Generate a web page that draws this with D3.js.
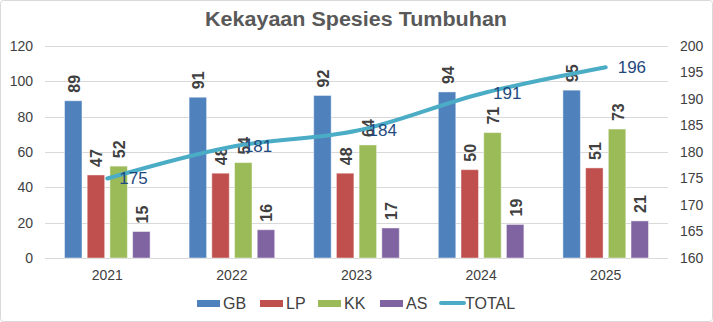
<!DOCTYPE html>
<html><head><meta charset="utf-8">
<script src="https://cdn.jsdelivr.net/npm/d3@7"></script>
<style>body{margin:0;background:#fff}svg{display:block;font-family:"Liberation Sans",Arial,sans-serif}</style>
</head><body><svg id="c" width="713" height="322"></svg>
<script>
const years = ["2021","2022","2023","2024","2025"];
const seriesNames = ["GB","LP","KK","AS"];
const GB = [89,91,92,94,95];
const LP = [47,48,48,50,51];
const KK = [52,54,64,71,73];
const AS = [15,16,17,19,21];
const TOTAL = [175,181,184,191,196];
const leftTicks = [0,20,40,60,80,100,120];
const rightTicks = [160,165,170,175,180,185,190,195,200];
const colors = {GB:"#4F81BD",LP:"#C0504D",KK:"#9BBB59",AS:"#8064A2",TOTAL:"#4BACC6"};
const values = {GB,LP,KK,AS};

const svg = d3.select("#c");
const L=45,R=668,T=46,B=258;
svg.append("rect").attr("x",0.5).attr("y",0.5).attr("width",712).attr("height",321).attr("rx",3)
  .attr("fill","#fff").attr("stroke","#d9d9d9");

svg.append("text").attr("x",205).attr("y",26)
  .attr("font-size",20).attr("font-weight","bold").attr("fill","#595959")
  .attr("textLength",302).attr("lengthAdjust","spacingAndGlyphs").text("Kekayaan Spesies Tumbuhan");

const x = d3.scaleBand().domain(years).range([L,R]);
const y = d3.scaleLinear().domain([0,120]).range([B,T]);
const y2 = d3.scaleLinear().domain([160,200]).range([B,T]);
const xs = d3.scaleBand().domain(seriesNames).range([0,85.6]).paddingInner(0.23);

// gridlines
svg.append("g").selectAll("line").data(leftTicks).join("line")
  .attr("x1",L).attr("x2",R).attr("y1",d=>Math.round(y(d))+0.5).attr("y2",d=>Math.round(y(d))+0.5)
  .attr("stroke","#d9d9d9");

const styleAxis = g => { g.select(".domain").remove();
  g.selectAll("text").attr("font-size",14).attr("fill","#404040").attr("font-family","Liberation Sans, Arial, sans-serif"); };
svg.append("g").attr("transform",`translate(${L},0)`)
  .call(d3.axisLeft(y).tickValues(leftTicks).tickSize(0).tickPadding(12)).call(styleAxis);
svg.append("g").attr("transform",`translate(${R},0)`)
  .call(d3.axisRight(y2).tickValues(rightTicks).tickSize(0).tickPadding(12)).call(styleAxis);
svg.append("g").attr("transform",`translate(0,${B})`)
  .call(d3.axisBottom(x).tickSize(0).tickPadding(12)).call(styleAxis);

const grpOff = c => x(c) + x.bandwidth()/2 - 85.6/2;

// bars
seriesNames.forEach(s=>{
  const g = svg.append("g");
  g.selectAll("rect").data(years).join("rect")
    .attr("x",(c)=>grpOff(c)+xs(s)).attr("width",xs.bandwidth())
    .attr("y",(c,i)=>y(values[s][i])).attr("height",(c,i)=>B-y(values[s][i]))
    .attr("fill",colors[s]).attr("stroke","#ffffff").attr("stroke-opacity",0.45);
  g.selectAll("text").data(years).join("text")
    .attr("transform",(c,i)=>`translate(${grpOff(c)+xs(s)+xs.bandwidth()/2+1},${y(values[s][i])-8}) rotate(-90)`)
    .attr("dominant-baseline","central").attr("font-size",16).attr("font-weight","bold").attr("fill","#404040")
    .text((c,i)=>values[s][i]);
});

// line
const lx = c => x(c)+x.bandwidth()/2;
const line = d3.line().x((d,i)=>lx(years[i])).y(d=>y2(d)).curve(d3.curveCatmullRom.alpha(0.5));
svg.append("path").attr("d",line(TOTAL)).attr("fill","none").attr("stroke",colors.TOTAL)
  .attr("stroke-width",4).attr("stroke-linecap","round");
svg.append("g").selectAll("text").data(TOTAL).join("text")
  .attr("x",(d,i)=>lx(years[i])+12).attr("y",d=>y2(d)).attr("dominant-baseline","central")
  .attr("font-size",17).attr("fill","#1F497D").text(d=>d);

// legend
const leg = svg.append("g");
const items = [["GB",197],["LP",260],["KK",318],["AS",380],["TOTAL",439]];
items.forEach(([n,x0])=>{
  if(n==="TOTAL"){
    leg.append("line").attr("x1",x0+2).attr("x2",x0+25).attr("y1",303).attr("y2",303)
      .attr("stroke",colors.TOTAL).attr("stroke-width",4).attr("stroke-linecap","round");
  } else {
    leg.append("rect").attr("x",x0).attr("y",300).attr("width",23).attr("height",7).attr("fill",colors[n]);
  }
  leg.append("text").attr("x",x0+26).attr("y",303).attr("dominant-baseline","central")
    .attr("font-size",16).attr("fill","#404040").text(n);
});
</script></body></html>
